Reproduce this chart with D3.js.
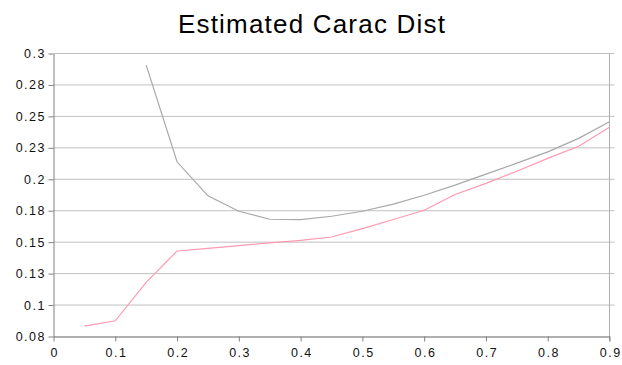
<!DOCTYPE html>
<html>
<head>
<meta charset="utf-8">
<script src="https://cdn.jsdelivr.net/npm/d3@7"></script>
<style>
  body { margin: 0; background: #fff; }
  text { font-family: "Liberation Sans", Arial, sans-serif; }
</style>
</head>
<body>
<svg width="622" height="365"></svg>
<script>
var svg = d3.select("svg");

// data
var grayX = [0.15, 0.2, 0.25, 0.3, 0.35, 0.4, 0.45, 0.5, 0.55, 0.6, 0.65, 0.7, 0.75, 0.8, 0.85, 0.9];
var grayY = [0.2908, 0.2139, 0.1868, 0.1746, 0.1682, 0.168, 0.1706, 0.1746, 0.1802, 0.1873, 0.1953, 0.2041, 0.2128, 0.2218, 0.2325, 0.2457];
var pinkX = [0.05, 0.1, 0.15, 0.2, 0.25, 0.3, 0.35, 0.4, 0.45, 0.5, 0.55, 0.6, 0.65, 0.7, 0.75, 0.8, 0.85, 0.9];
var pinkY = [0.0832, 0.0875, 0.118, 0.143, 0.1451, 0.1473, 0.1494, 0.1515, 0.1541, 0.1608, 0.168, 0.1754, 0.1879, 0.1967, 0.2064, 0.2166, 0.2263, 0.2413];
var xTicks = [0, 0.1, 0.2, 0.3, 0.4, 0.5, 0.6, 0.7, 0.8, 0.9];
var yTicks = [0.075, 0.1, 0.125, 0.15, 0.175, 0.2, 0.225, 0.25, 0.275, 0.3];

var x = d3.scaleLinear().domain([0, 0.9]).range([53.5, 609.5]);
var y = d3.scaleLinear().domain([0.075, 0.3]).range([336.5, 53.5]);

// y labels are rounded (half up) to 2 decimals like the original
var fy = function(d) { return String(Math.round(Math.round(d * 1000) / 10) / 100); };

// title
svg.append("text")
  .attr("x", 312)
  .attr("y", 33)
  .attr("text-anchor", "middle")
  .attr("font-size", 26)
  .attr("letter-spacing", 1.2)
  .attr("fill", "#000")
  .text("Estimated Carac Dist");

// gridlines
svg.append("g")
  .selectAll("line")
  .data(yTicks.slice(1))
  .enter().append("line")
  .attr("x1", x(0))
  .attr("x2", x(0.9) + 5)
  .attr("y1", function(d) { return y(d); })
  .attr("y2", function(d) { return y(d); })
  .attr("stroke", "#c0c0c0")
  .attr("stroke-width", 1);

// right border
svg.append("line")
  .attr("x1", x(0.9)).attr("x2", x(0.9))
  .attr("y1", y(0.3)).attr("y2", y(0.075) + 5)
  .attr("stroke", "#b0b0b0");

// y axis
var gy = svg.append("g")
  .attr("transform", "translate(" + x(0) + ",0)")
  .call(d3.axisLeft(y).tickValues(yTicks).tickFormat(fy).tickSize(5).tickSizeOuter(0));
gy.select(".domain").attr("stroke", "#808080");
gy.selectAll(".tick line").attr("stroke", "#808080");
gy.selectAll("text").attr("font-size", 12.5).attr("letter-spacing", 1.5).attr("fill", "#111").attr("x", -7.5)
  .attr("font-family", "'Liberation Sans', Arial, sans-serif");

// x axis
var gx = svg.append("g")
  .attr("transform", "translate(0," + y(0.075) + ")")
  .call(d3.axisBottom(x).tickValues(xTicks).tickFormat(function(d) { return String(d); }).tickSize(5).tickSizeOuter(0));
gx.select(".domain").attr("stroke", "#606060");
gx.selectAll(".tick line").attr("stroke", "#808080");
gx.selectAll("text").attr("font-size", 12.5).attr("letter-spacing", 1.5).attr("fill", "#111").attr("y", 12).attr("dx", 0.75)
  .attr("font-family", "'Liberation Sans', Arial, sans-serif");

var line = d3.line()
  .x(function(d) { return x(d[0]); })
  .y(function(d) { return y(d[1]); });

svg.append("path")
  .datum(d3.zip(grayX, grayY))
  .attr("fill", "none")
  .attr("stroke", "#a8a8a8")
  .attr("stroke-width", 1.2)
  .attr("d", line);

svg.append("path")
  .datum(d3.zip(pinkX, pinkY))
  .attr("fill", "none")
  .attr("stroke", "#ff9ab0")
  .attr("stroke-width", 1.2)
  .attr("d", line);
</script>
</body>
</html>
